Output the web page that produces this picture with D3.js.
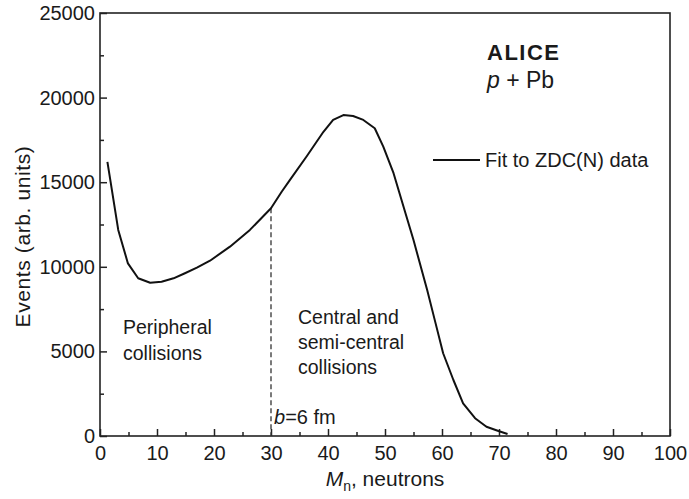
<!DOCTYPE html>
<html>
<head>
<meta charset="utf-8">
<script src="https://cdn.jsdelivr.net/npm/d3@7"></script>
<style>
  body { margin: 0; background: #fff; }
  text { font-family: "Liberation Sans", Arial, sans-serif; fill: #1a1a1a; }
</style>
</head>
<body>
<div id="chart"></div>
<script>
// fit curve
let neutrons = [1.3, 3.2, 4.9, 6.7, 8.8, 10.8, 12.9, 14.9, 17.0, 19.3, 22.8, 26.3, 30.0, 31.9,
    33.3, 36.3, 39.2, 40.9, 42.7, 44.4, 46.2, 48.2, 49.7, 51.5, 53.7, 55.0, 57.4, 58.8,
    60.2, 62.0, 63.7, 65.8, 67.8, 69.9, 71.5]
let events = [16200, 12180, 10200, 9320, 9060, 9120, 9320, 9620, 9950, 10360, 11190, 12180, 13460, 14450,
    15120, 16550, 17980, 18680, 18970, 18910, 18680, 18190, 17100, 15530, 13050, 11580, 8630, 6760,
    4890, 3310, 1930, 1050, 550, 295, 120]

let xMajor = [0, 10, 20, 30, 40, 50, 60, 70, 80, 90, 100]
let xMinor = [5, 15, 25, 35, 45, 55, 65, 75, 85, 95]
let yMajor = [0, 5000, 10000, 15000, 20000, 25000]
let yMinor = [2500, 7500, 12500, 17500, 22500]
let bCut = 30

let data = neutrons.map((m, i) => ({m: m, v: events[i]}))

let margin = {top: 13, right: 19, bottom: 63, left: 100},
    width = 689 - margin.left - margin.right,
    height = 499 - margin.top - margin.bottom;

let svg = d3.select("#chart")
    .append("svg")
    .attr("width", 689)
    .attr("height", 499)
    .append("g")
    .attr("transform", "translate(" + margin.left + "," + margin.top + ")");

let x = d3.scaleLinear().domain([0, 100]).range([0, width])
let y = d3.scaleLinear().domain([0, 25000]).range([height, 0])

function styleAxis(g) {
    g.select(".domain").remove()
    g.selectAll("line").attr("stroke", "#222").attr("stroke-width", 1.5)
    g.selectAll("text").attr("font-size", 20).attr("fill", "#1a1a1a")
}

// ticks point inwards
svg.append("g")
    .attr("transform", "translate(0," + height + ")")
    .call(d3.axisBottom(x).tickValues(xMajor).tickSize(-7).tickPadding(10).tickFormat(d3.format("d")))
    .call(styleAxis)
svg.append("g")
    .attr("transform", "translate(0," + height + ")")
    .call(d3.axisBottom(x).tickValues(xMinor).tickSize(-4).tickFormat(""))
    .call(styleAxis)
svg.append("g")
    .call(d3.axisLeft(y).tickValues(yMajor).tickSize(-7).tickPadding(5).tickFormat(d3.format("d")))
    .call(styleAxis)
svg.append("g")
    .call(d3.axisLeft(y).tickValues(yMinor).tickSize(-4).tickFormat(""))
    .call(styleAxis)

// frame
svg.append("rect")
    .attr("width", width)
    .attr("height", height)
    .attr("fill", "none")
    .attr("stroke", "#222")
    .attr("stroke-width", 1.6)

// b = 6 fm cut
let cutValue = 13460
svg.append("line")
    .attr("x1", x(bCut)).attr("x2", x(bCut))
    .attr("y1", y(cutValue)).attr("y2", height)
    .attr("stroke", "#333")
    .attr("stroke-width", 1.3)
    .attr("stroke-dasharray", "5,3")

svg.append("path")
    .datum(data)
    .attr("fill", "none")
    .attr("stroke", "#111")
    .attr("stroke-width", 2)
    .attr("stroke-linejoin", "round")
    .attr("d", d3.line()
        .x(d => x(d.m))
        .y(d => y(d.v))
    )

// legend
svg.append("line")
    .attr("x1", 333).attr("x2", 380)
    .attr("y1", 147).attr("y2", 147)
    .attr("stroke", "#111").attr("stroke-width", 2)
svg.append("text")
    .attr("x", 385).attr("y", 154)
    .attr("font-size", 20)
    .text("Fit to ZDC(N) data")

// labels
svg.append("text")
    .attr("x", 387).attr("y", 47)
    .attr("font-size", 22).attr("font-weight", "bold")
    .attr("letter-spacing", 1.5)
    .text("ALICE")
let pb = svg.append("text")
    .attr("x", 387).attr("y", 75)
    .attr("font-size", 23)
pb.append("tspan").attr("font-style", "italic").text("p")
pb.append("tspan").text(" + Pb")

let per = svg.append("text").attr("font-size", 19.5)
per.append("tspan").attr("x", 23).attr("y", 321).text("Peripheral")
per.append("tspan").attr("x", 23).attr("y", 347).text("collisions")

let cen = svg.append("text").attr("font-size", 19.5)
cen.append("tspan").attr("x", 198).attr("y", 311).text("Central and")
cen.append("tspan").attr("x", 198).attr("y", 336).text("semi-central")
cen.append("tspan").attr("x", 198).attr("y", 361).text("collisions")

let bt = svg.append("text")
    .attr("x", x(bCut) + 3).attr("y", 411)
    .attr("font-size", 20)
bt.append("tspan").attr("font-style", "italic").text("b")
bt.append("tspan").text("=6 fm")

// axis titles
let xt = svg.append("text")
    .attr("x", width / 2).attr("y", height + 50)
    .attr("text-anchor", "middle")
    .attr("font-size", 21)
xt.append("tspan").attr("font-style", "italic").text("M")
xt.append("tspan").attr("font-size", 14).attr("dy", 5).text("n")
xt.append("tspan").attr("dy", -5).text(", neutrons")

svg.append("text")
    .attr("transform", "translate(-70," + (height / 2 + 12) + ") rotate(-90)")
    .attr("text-anchor", "middle")
    .attr("font-size", 21)
    .attr("letter-spacing", 0.6)
    .text("Events (arb. units)")
</script>
</body>
</html>
